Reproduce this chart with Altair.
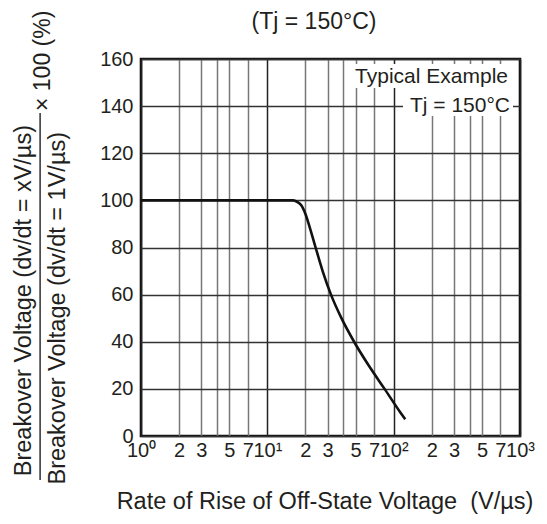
import altair as alt
import pandas as pd

# ---- data ----
rate = [1, 16.0, 17.2, 18.5, 20.1, 21.8, 24.1, 27.4, 31.9, 38.6, 48.6, 63.3, 84.7, 113, 123.5]
ratio = [100, 100, 99.4, 98, 94, 88, 80, 70, 60, 50, 40, 30, 20, 10, 7.1]

x_ticks = [1, 2, 3, 4, 5, 7, 10, 20, 30, 40, 50, 70, 100, 200, 300, 400, 500, 700, 1000]
x_tick_labels = ["10⁰", "2", "3", "", "5", "7", "10¹", "2", "3", "", "5", "7",
                 "10²", "2", "3", "", "5", "7", "10³"]
decades = [1, 10, 100, 1000]
y_ticks = [0, 20, 40, 60, 80, 100, 120, 140, 160]

title_text = "(Tj = 150°C)"
x_title = "Rate of Rise of Off-State Voltage\u00a0\u00a0(V/µs)"
y_num = "Breakover Voltage (dv/dt = xV/µs)"
y_den = "Breakover Voltage (dv/dt = 1V/µs)"
y_factor = "× 100 (%)"
note_lines = ["Typical Example", "Tj = 150°C"]

FONT = "Liberation Sans"
INK = "#231f20"

df = pd.DataFrame({"rate": rate, "ratio": ratio})

label_expr = "''"
for v, lab in reversed(list(zip(x_ticks, x_tick_labels))):
    label_expr = f"datum.value == {v} ? '{lab}' : ({label_expr})"

decade_test = "indexof([" + ",".join(str(d) for d in decades) + "], datum.value) >= 0"

line = alt.Chart(df).mark_line(color="#111", strokeWidth=2.6, interpolate="monotone").encode(
    x=alt.X("rate:Q",
            scale=alt.Scale(type="log", domain=[1, 1000]),
            axis=alt.Axis(values=x_ticks, labelExpr=label_expr, title=None, ticks=False,
                          domain=False, grid=True,
                          gridColor={"condition": {"test": decade_test, "value": "#222"},
                                     "value": "#777"},
                          gridWidth=1.5, gridOpacity=1,
                          labelFont=FONT, labelFontSize=20, labelColor=INK,
                          labelPadding=4, labelOverlap=False, labelFlush=False,
                          labelBound=False)),
    y=alt.Y("ratio:Q",
            scale=alt.Scale(domain=[0, 160], nice=False),
            axis=alt.Axis(values=y_ticks, title=None, ticks=False, domain=False, grid=True,
                          gridColor="#333", gridWidth=1.4, gridOpacity=1,
                          labelFont=FONT, labelFontSize=20, labelColor=INK,
                          labelPadding=8)),
)

one = alt.Data(values=[{"k": 1}])

def txt(text, x, y, size, align="center", angle=0):
    return alt.Chart(one).mark_text(
        font=FONT, fontSize=size, color=INK, align=align, baseline="middle", angle=angle
    ).encode(x=alt.value(x), y=alt.value(y), text=alt.value(text))

def box(x1, x2, y1, y2, color):
    return alt.Chart(one).mark_rect(color=color).encode(
        x=alt.value(x1), x2=alt.value(x2), y=alt.value(y1), y2=alt.value(y2))

chart = alt.layer(
    line,
    box(209, 369, 5, 29, "white"),
    box(262, 372, 29, 57, "white"),
    box(-101.6, -100.2, 54, 421, INK),
    txt(note_lines[0], 367, 18, 21, align="right"),
    txt(note_lines[1], 369, 47, 21, align="right"),
    txt(title_text, 173, -37, 23),
    txt(x_title, 184, 443, 23.5),
    txt(y_num, -117, 66, 23.5, align="right", angle=270),
    txt(y_den, -83, 73, 23.5, align="right", angle=270),
    txt(y_factor, -98, 52, 23, align="left", angle=270),
).properties(
    width=379, height=377,
    autosize=alt.AutoSizeParams(type="none"),
    padding={"left": 133, "top": 51, "right": 19, "bottom": 78},
    background="white",
).configure_view(stroke="#111", strokeWidth=2.6)

chart.save("out.html", embed_options={"renderer": "svg", "actions": False})
